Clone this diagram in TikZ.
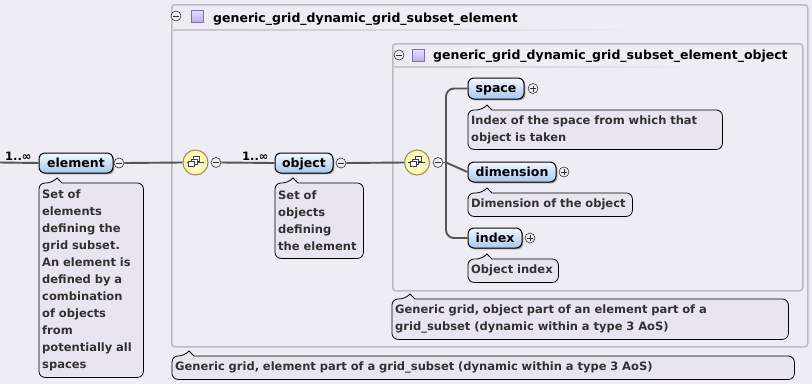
\documentclass[tikz,border=0pt]{standalone}
\usepackage{fontspec}
\setmainfont{DejaVu Sans}
\usetikzlibrary{calc,shadows}
\pgfdeclarelayer{back}
\pgfdeclarelayer{docs}
\pgfsetlayers{back,docs,main}

\definecolor{bgc}{RGB}{238,236,245}
\definecolor{boxline}{RGB}{188,188,194}
\definecolor{connc}{RGB}{85,85,85}
\definecolor{doctext}{RGB}{50,50,50}
\definecolor{nodetop}{RGB}{244,248,254}
\definecolor{nodebot}{RGB}{168,198,236}
\definecolor{docfill}{RGB}{232,229,241}
\definecolor{seqfill}{RGB}{252,246,170}
\definecolor{seqline}{RGB}{160,145,90}
\definecolor{sqfill}{RGB}{190,174,234}
\definecolor{sqline}{RGB}{128,110,190}

\tikzset{
  elem/.style={draw=black, line width=1pt, rounded corners=6pt,
    top color=nodetop, bottom color=nodebot,
    font=\fontsize{12.5}{14}\selectfont\bfseries, inner sep=0pt,
    minimum height=20pt, text height=10pt, text depth=2pt,
    drop shadow={shadow xshift=1.3pt, shadow yshift=-1.3pt, fill=black!55, opacity=0.7}},
  doc/.style={inner xsep=3pt, inner ysep=0pt, align=left, anchor=north west,
    font=\fontsize{11.5}{17}\selectfont\bfseries, text=doctext},
  docline/.style={draw=black, line width=0.8pt, fill=docfill},
  pmbase/.style={circle, draw=black!80, line width=0.6pt, minimum size=10pt, inner sep=0pt, fill=bgc},
  minus/.style={pmbase, path picture={\draw[line width=0.6pt]
      ([xshift=2pt]path picture bounding box.west) -- ([xshift=-2pt]path picture bounding box.east);}},
  plus/.style={pmbase, path picture={\draw[line width=0.6pt]
      ([xshift=2pt]path picture bounding box.west) -- ([xshift=-2pt]path picture bounding box.east)
      ([yshift=-2pt]path picture bounding box.north) -- ([yshift=2pt]path picture bounding box.south);}},
  conn/.style={draw=connc, line width=1.9pt},
  box/.style={draw=boxline, line width=1.5pt, fill=bgc, rounded corners=3pt, anchor=north west, inner sep=0pt},
  seq/.style={circle, draw=seqline, line width=1.1pt, inner color=seqfill!35!white, outer color=seqfill, minimum size=25pt, inner sep=0pt},
  sq/.style={draw=sqline, line width=0.6pt, minimum size=12pt, inner sep=0pt, top color=sqfill!35!white, bottom color=sqfill},
  title/.style={font=\fontsize{12.5}{14}\selectfont\bfseries, inner sep=0pt, anchor=base west},
  card/.style={font=\fontsize{11.5}{14}\selectfont\bfseries, inner sep=0pt, anchor=base west}
}

\newcommand\docshape[2]{%
  \begin{pgfonlayer}{docs}
  \draw[docline] (#1.west) [rounded corners=6pt] |- ([xshift=#2]#1.north west)
    [sharp corners] -- ++(5,-5) -- ++(5,5) [rounded corners=6pt] -| (#1.south east)
    -| (#1.west) [sharp corners] -- cycle;
  \end{pgfonlayer}}

\newcommand\seqglyph[1]{%
  \draw[black!75, line width=0.8pt] ($(#1)+(-9,0)$) -- ($(#1)+(8,0)$);
  \foreach \i in {2,1,0}{
    \draw[black!75, fill=white, line width=0.7pt] ($(#1)+(-7+2.5*\i,-1-2.5*\i)$) rectangle ++(6,5);
  }}

\begin{document}
\begin{tikzpicture}[x=1pt,y=-1pt]
\useasboundingbox (0,0) rectangle (812,384);

\begin{pgfonlayer}{back}
  \fill[bgc] (0,0) rectangle (812,384);
  \node[box, minimum width=636pt, minimum height=342pt] (outer) at (171,4) {};
  \shade[left color=black!22, right color=bgc] (173,29.5) rectangle (650,30.5);
  \node[box, minimum width=410pt, minimum height=247pt] (inner) at (392,43) {};
  \shade[left color=black!22, right color=bgc] (394,66.5) rectangle (700,67.5);
\end{pgfonlayer}

% titles
\node[minus] (om) at (176,16) {};
\node[sq] (oq) at (197,16) {};
\node[title] (ot) at (213,22) {generic\_grid\_dynamic\_grid\_subset\_element};
\node[minus] (im) at (399,55) {};
\node[sq] (iq) at (418,55) {};
\node[title] (it) at (433,59) {generic\_grid\_dynamic\_grid\_subset\_element\_object};

% element
\coordinate (lin) at (0,162.5);
\node[elem, minimum width=74pt] (element) at (76,163) {element};
\node[minus] (em) at (119,163) {};
\node[card] (ec) at (5,160) {1..∞};
\draw[conn] (lin) -- (element.west);

\node[doc, text width=98pt, minimum height=194pt] (edoc) at (39,183)
  {Set of\\elements\\defining the\\grid subset.\\An element is\\defined by a\\combination\\of objects\\from\\potentially all\\spaces};
\docshape{edoc}{13}

% sequence 1
\node[seq] (s1) at (195.5,162.5) {};
\seqglyph{s1}
\node[minus] (s1m) at (216,162.5) {};
\draw[conn] (em.east) -- (s1.west);

% object
\node[elem, minimum width=58pt] (object) at (304,163) {object};
\node[minus] (objm) at (341,163) {};
\node[card] (oc) at (242,160) {1..∞};
\draw[conn] (s1m.east) -- (object.west);
\node[doc, text width=82pt, minimum height=75pt] (odoc) at (275,183)
  {Set of\\objects\\defining\\the element};
\docshape{odoc}{13}

% sequence 2
\node[seq] (s2) at (417,162.5) {};
\seqglyph{s2}
\node[minus] (s2m) at (438,162.5) {};
\draw[conn] (objm.east) -- (s2.west);

% children
\node[elem, minimum width=56pt, minimum height=21pt] (space) at (496,88.5) {space};
\node[plus] (spp) at (533,88.5) {};
\node[doc, text width=248pt, minimum height=39pt] (sdoc) at (468,110)
  {Index of the space from which that\\object is taken};
\docshape{sdoc}{14}

\node[elem, minimum width=88pt] (dimension) at (512,172) {dimension};
\node[plus] (dp) at (564,172) {};
\node[doc, text width=158pt, minimum height=23pt] (ddoc) at (468,193)
  {Dimension of the object};
\docshape{ddoc}{14}

\node[elem, minimum width=54pt] (index) at (495,238) {index};
\node[plus] (ip) at (530,238) {};
\node[doc, text width=84pt, minimum height=23pt] (idoc) at (468,259)
  {Object index};
\docshape{idoc}{14}

\coordinate (bx) at (446,162.5);
\draw[conn] (s2m.east) -- (bx);
\draw[conn, rounded corners=8pt] (space.west) -| (bx) |- (index.west);
\draw[conn] (bx) -- (dimension.west);

% container docs
\node[doc, text width=390pt, minimum height=40pt] (indoc) at (392,299)
  {Generic grid, object part of an element part of a\\grid\_subset (dynamic within a type 3 AoS)};
\docshape{indoc}{13}
\node[doc, text width=616pt, minimum height=23pt] (outdoc) at (172,356)
  {Generic grid, element part of a grid\_subset (dynamic within a type 3 AoS)};
\docshape{outdoc}{12}

\end{tikzpicture}
\end{document}
